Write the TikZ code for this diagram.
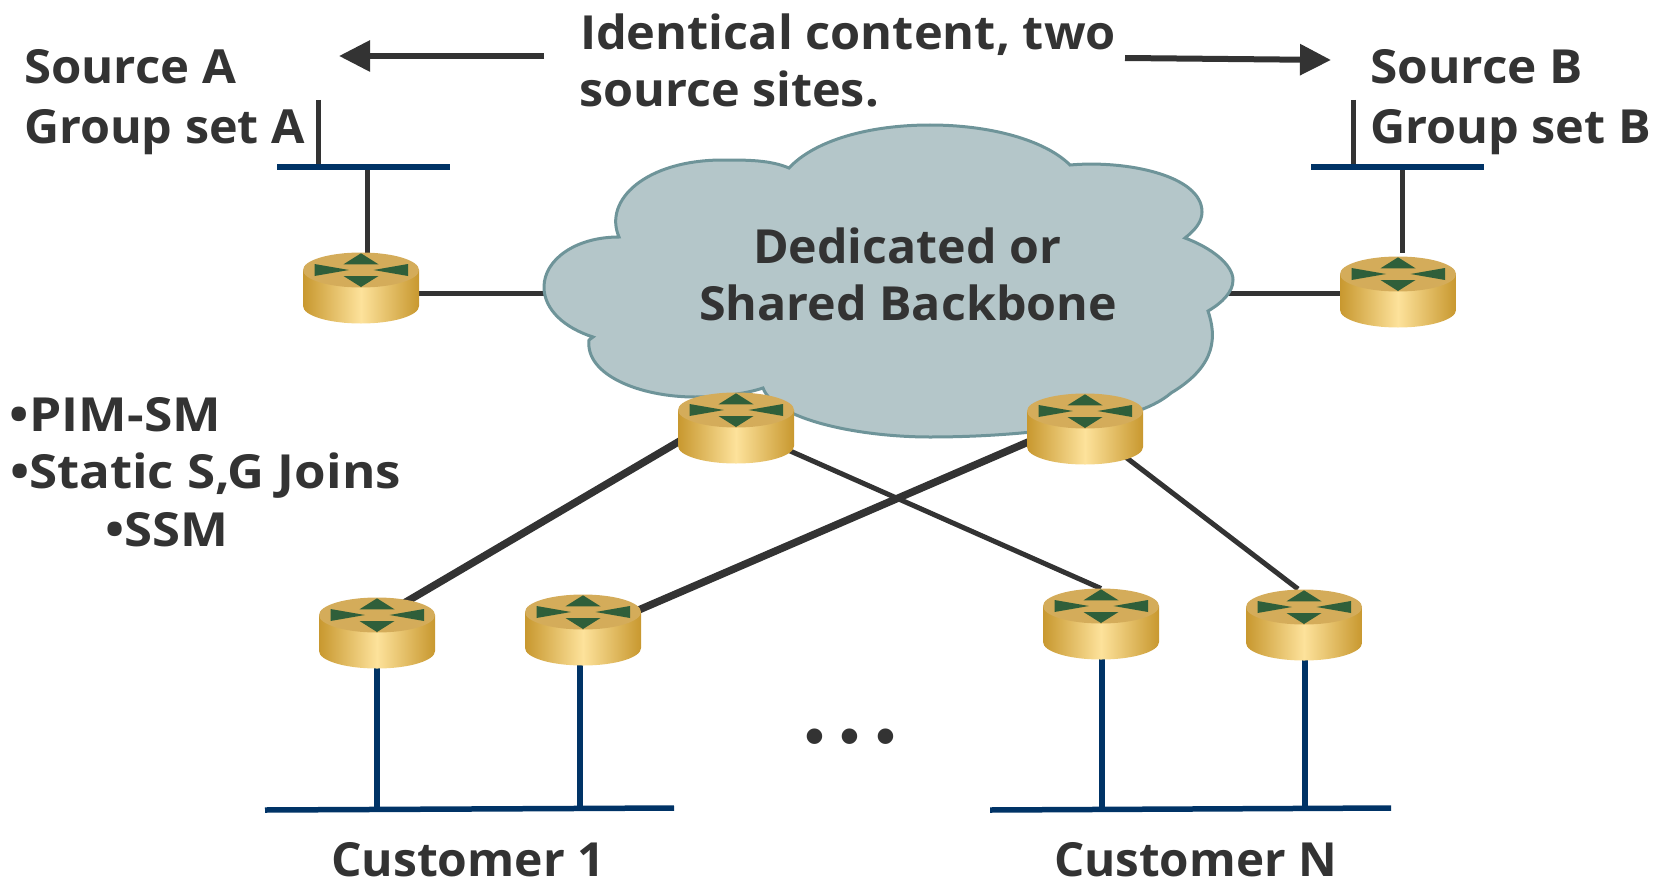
\documentclass[tikz,border=0pt]{standalone}
\usepackage{graphicx}
\usepackage{fontspec}
\setmainfont{Open Sans}
\newfontfamily\dotfont{Liberation Sans}
\usetikzlibrary{arrows.meta}
\definecolor{ink}{HTML}{333333}
\definecolor{busblue}{HTML}{003366}
\definecolor{cloudfill}{HTML}{B4C6C9}
\definecolor{cloudedge}{HTML}{6E9499}
\definecolor{rtop}{HTML}{D4AC5A}
\definecolor{redge}{HTML}{C8982F}
\definecolor{rmid}{HTML}{FDE29B}
\definecolor{rarrow}{HTML}{2F5F3A}
\newsavebox\fitbox
\newcommand\fit[2]{\sbox\fitbox{#2}\scalebox{\fpeval{#1pt/\wd\fitbox}}[1]{\usebox\fitbox}}
\tikzset{
  lab/.style={anchor=base west,inner sep=0pt,outer sep=0pt,text=ink,font=\fontsize{47}{50}\selectfont\bfseries},
  routernode/.style={inner sep=0pt,outer sep=0pt,minimum width=116pt,minimum height=35pt},
  thinlink/.style={draw=ink,line width=5pt},
  thicklink/.style={draw=ink,line width=7.5pt},
  stem/.style={draw=ink,line width=5pt},
  bus/.style={draw=busblue,line width=5.5pt},
  drop/.style={draw=busblue,line width=5.5pt},
  bigarrow/.style={draw=ink,line width=6pt,-{Triangle[length=31pt,width=30pt]}}
}
\newcommand\drawrouter[1]{%
  \begin{scope}[shift={(#1.center)}]
    \shade[left color=redge,right color=redge,middle color=rmid]
      (-58,0) -- (-58,36) .. controls (-58,45.7) and (-32,53.5) .. (0,53.5)
      .. controls (32,53.5) and (58,45.7) .. (58,36) -- (58,0) -- cycle;
    \fill[rtop] (-58,0) .. controls (-58,-9.7) and (-32,-17.5) .. (0,-17.5)
      .. controls (32,-17.5) and (58,-9.7) .. (58,0)
      .. controls (58,9.7) and (32,17.5) .. (0,17.5)
      .. controls (-32,17.5) and (-58,9.7) .. (-58,0) -- cycle;
    \fill[rarrow] (0,-16.7) -- (17.5,-5.7) -- (-17.5,-5.7) -- cycle;
    \fill[rarrow] (0,17) -- (17.5,6) -- (-17.5,6) -- cycle;
    \fill[rarrow] (-46.5,-6) -- (-12,0) -- (-46.5,6) -- cycle;
    \fill[rarrow] (47,-6) -- (12.5,0) -- (47,6) -- cycle;
  \end{scope}}
\begin{document}
\begin{tikzpicture}[x=1pt,y=-1pt]
\useasboundingbox (0,0) rectangle (1656,880);
% anchors
\node[routernode] (r1) at (361,270) {};
\node[routernode] (r2) at (1398,274) {};
\node[routernode] (r3) at (736,410) {};
\node[routernode] (r4) at (1085,411) {};
\node[routernode] (r5) at (377,615) {};
\node[routernode] (r6) at (583,612) {};
\node[routernode] (r7) at (1101,606) {};
\node[routernode] (r8) at (1304,607) {};
\coordinate (cl) at (930,293);
\coordinate (a1s) at (544,56);
\coordinate (a1e) at (339,56);
\coordinate (a2s) at (1125,58);
\coordinate (a2e) at (1331,60);
\coordinate (s1t) at (318,100);
\coordinate (s1b) at (318,167);
\coordinate (s2t) at (1353,100);
\coordinate (s2b) at (1353,167);
\coordinate (b1l) at (277,167);
\coordinate (b1r) at (450,167);
\coordinate (b2l) at (1311,167);
\coordinate (b2r) at (1484,167);
\coordinate (k1t) at (367,167);
\coordinate (k1b) at (367,253);
\coordinate (k2t) at (1402,167);
\coordinate (k2b) at (1402,253);
\coordinate (b3l) at (265,810);
\coordinate (b3r) at (674,808);
\coordinate (b4l) at (990,810);
\coordinate (b4r) at (1391,808);
\coordinate (d5) at (377,810);
\coordinate (d6) at (580,808.5);
\coordinate (d7) at (1102,810);
\coordinate (d8) at (1305,808.5);
% connectors
\draw[thinlink] (r1.center |- cl) -- (cl);
\draw[thinlink] (cl) -- (r2.center |- cl);
\draw[stem] (s1t) -- (s1b);
\draw[stem] (s2t) -- (s2b);
\draw[stem] (k1t) -- (k1b);
\draw[stem] (k2t) -- (k2b);
\draw[bus] (b1l) -- (b1r);
\draw[bus] (b2l) -- (b2r);
\draw[thicklink] ([yshift=2pt]r3.center) -- ([yshift=-4pt]r5.center);
\draw[thicklink] ([yshift=-6.5pt]r4.center) -- ([yshift=-22pt]r6.center);
\draw[thinlink] ([yshift=-17pt]r3.center) -- ([yshift=17.5pt]r7.center);
\draw[thinlink] ([yshift=-15pt]r4.center) -- ([xshift=-6pt,yshift=18pt]r8.center);
\draw[drop] (d5 |- r5) -- (d5);
\draw[drop] (d6 |- r6) -- (d6);
\draw[drop] (d7 |- r7) -- (d7);
\draw[drop] (d8 |- r8) -- (d8);
\draw[bus] (b3l) -- (b3r);
\draw[bus] (b4l) -- (b4r);
\draw[bigarrow] (a1s) -- (a1e);
\draw[bigarrow] (a2s) -- (a2e);
% cloud
\path[fill=cloudfill,draw=cloudedge,line width=3pt,line join=miter]
  (619,237) .. controls (603,200) and (646,160) .. (723,160)
  .. controls (748,160) and (770,160) .. (789,168)
  .. controls (815,140) and (870,125) .. (930,125)
  .. controls (990,125) and (1045,140) .. (1070,165)
  .. controls (1125,160) and (1202,175) .. (1202,212)
  .. controls (1202,222) and (1195,230) .. (1185,238)
  .. controls (1212,248) and (1233,265) .. (1233,280)
  .. controls (1233,292) and (1222,303) .. (1208,311)
  .. controls (1216,335) and (1218,365) .. (1171,393)
  .. controls (1135,425) and (1020,437) .. (930,437)
  .. controls (860,437) and (775,420) .. (763,388)
  .. controls (745,394) and (720,397) .. (695,397)
  .. controls (640,397) and (585,375) .. (589,340)
  -- (593,337)
  .. controls (565,328) and (544,310) .. (544,287)
  .. controls (544,260) and (575,237) .. (619,237) -- cycle;
% routers
\drawrouter{r1}\drawrouter{r2}\drawrouter{r3}\drawrouter{r4}
\drawrouter{r5}\drawrouter{r6}\drawrouter{r7}\drawrouter{r8}
% labels
\node[lab] (srcA) at (24,84) {\fit{212}{Source A}};
\node[lab] (grpA) at (24,143) {\fit{281}{Group set A}};
\node[lab] (srcB) at (1370,84) {\fit{213}{Source B}};
\node[lab] (grpB) at (1370,143) {\fit{281}{Group set B}};
\node[lab] (id1) at (580,50) {\fit{536}{Identical content, two}};
\node[lab] (id2) at (579,107) {\fit{300}{source sites.}};
\node[lab] (bb1) at (753,263) {\fit{308}{Dedicated or}};
\node[lab] (bb2) at (699,320) {\fit{418}{Shared Backbone}};
\node[lab] (pim) at (10,431) {\fit{211}{•PIM-SM}};
\node[lab] (sg) at (10,488) {\fit{391}{•Static S,G Joins}};
\node[lab] (ssm) at (105,546) {\fit{123}{•SSM}};
\node[lab] (cu1) at (331,876) {\fit{274}{Customer 1}};
\node[lab] (cuN) at (1054,876) {\fit{283}{Customer N}};
\node[lab,anchor=base,font=\fontsize{54}{60}\selectfont\bfseries\dotfont] (dots) at (850,754.6) {•\kern16.6pt•\kern16.6pt•};
\end{tikzpicture}
\end{document}
